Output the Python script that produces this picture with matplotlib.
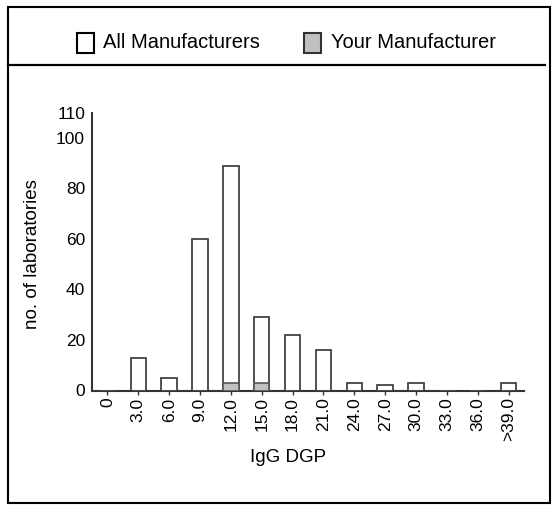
import matplotlib
matplotlib.use("Agg")
import matplotlib.pyplot as plt
from matplotlib.patches import Rectangle
from matplotlib.lines import Line2D

plt.rcParams['font.family'] = ['Liberation Sans', 'DejaVu Sans']

categories = ["0", "3.0", "6.0", "9.0", "12.0", "15.0", "18.0", "21.0",
              "24.0", "27.0", "30.0", "33.0", "36.0", ">39.0"]
all_manufacturers = [0, 13, 5, 60, 89, 29, 22, 16, 3, 2, 3, 0, 0, 3]
your_manufacturer = [0, 0, 0, 0, 3, 3, 0, 0, 0, 0, 0, 0, 0, 0]
y_ticks = [0, 20, 40, 60, 80, 100, 110]
series_labels = ["All Manufacturers", "Your Manufacturer"]
x_label = "IgG DGP"
y_label = "no. of laboratories"

W, H = 552, 509
fig = plt.figure(figsize=(W / 100, H / 100), dpi=100)

def fx(px):
    return px / W

def fy(py):
    return 1 - py / H

# axes
left, right, top, bottom = 92, 524, 112.7, 390.5
ax = fig.add_axes([fx(left), fy(bottom), fx(right - left), (bottom - top) / H])
xs = list(range(len(categories)))
ax.bar(xs, all_manufacturers, width=0.5, facecolor='white', edgecolor='#333333', linewidth=1.2, zorder=2)
ax.bar(xs, your_manufacturer, width=0.5, facecolor='#c0c0c0', edgecolor='#555555', linewidth=1.2, zorder=3)
ax.set_xlim(-0.5, 13.5)
ax.set_ylim(0, 110)
ax.set_yticks(y_ticks)
ax.set_xticks(xs)
ax.set_xticklabels(categories, rotation=90, fontsize=12.5)
ax.tick_params(axis='y', length=0, pad=5, labelsize=12.5)
ax.tick_params(axis='x', length=3, width=1, color='#333333', pad=2)
for s in ['top', 'right']:
    ax.spines[s].set_visible(False)
for s in ['left', 'bottom']:
    ax.spines[s].set_color('#333333')
    ax.spines[s].set_linewidth(1.5)

fig.text(fx(33), fy(254), y_label, rotation=90, ha='center', va='center', fontsize=13.5)
fig.text(fx(288), fy(458), x_label, ha='center', va='center', fontsize=13.5)

# outer border
fig.patches.append(Rectangle((fx(8), fy(503)), fx(542), (503 - 7) / H, transform=fig.transFigure,
                             facecolor='none', edgecolor='black', linewidth=1.5))
fig.lines.append(Line2D([fx(8), fx(545)], [fy(65), fy(65)], transform=fig.transFigure,
                        color='black', linewidth=1.6))

# legend
fig.patches.append(Rectangle((fx(77), fy(53)), fx(17), 20 / H, transform=fig.transFigure,
                             facecolor='white', edgecolor='black', linewidth=1.5))
fig.text(fx(103), fy(43), series_labels[0], ha='left', va='center', fontsize=14.5)
fig.patches.append(Rectangle((fx(304), fy(53)), fx(17), 20 / H, transform=fig.transFigure,
                             facecolor='#c0c0c0', edgecolor='#333333', linewidth=1.5))
fig.text(fx(331), fy(43), series_labels[1], ha='left', va='center', fontsize=14.5)

fig.savefig("out.png", dpi=100)
